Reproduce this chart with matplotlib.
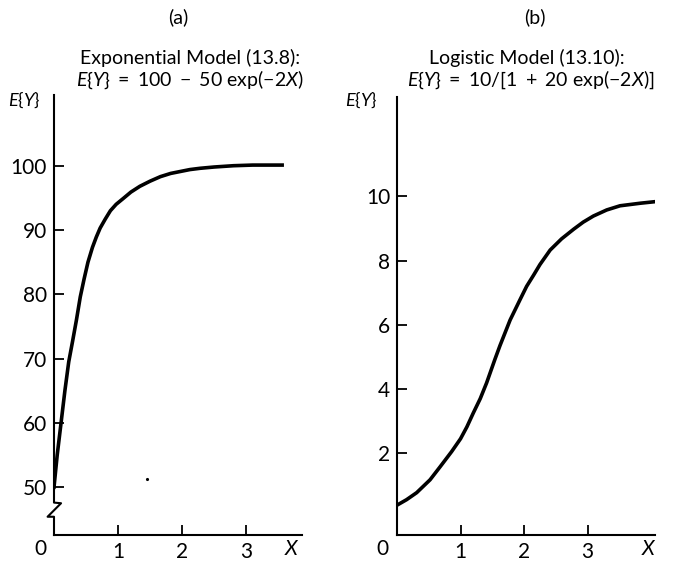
import numpy as np
import matplotlib
matplotlib.use("Agg")
import matplotlib.pyplot as plt

plt.rcParams['font.family'] = ['Lato', 'DejaVu Sans']
plt.rcParams['mathtext.fontset'] = 'custom'
plt.rcParams['mathtext.rm'] = 'Lato'
plt.rcParams['mathtext.it'] = 'Lato:italic'

# values
exp_x = [0.0, 0.05, 0.11, 0.17, 0.23, 0.29, 0.35, 0.41, 0.47, 0.53, 0.60, 0.66,
         0.72, 0.80, 0.88, 0.97, 1.08, 1.2, 1.34, 1.5, 1.66, 1.82, 1.97, 2.12,
         2.28, 2.5, 2.8, 3.1, 3.56]
exp_y = [50.0, 55.0, 60.0, 65.0, 69.5, 72.7, 76.0, 79.6, 82.4, 85.0, 87.3, 88.9,
         90.3, 91.7, 93.0, 94.0, 94.9, 95.9, 96.8, 97.6, 98.3, 98.8, 99.1, 99.4,
         99.6, 99.8, 100.0, 100.1, 100.1]

log_x = [0.0, 0.15, 0.31, 0.52, 0.68, 0.86, 1.0, 1.1, 1.2, 1.31, 1.41, 1.54,
         1.62, 1.78, 1.94, 2.04, 2.15, 2.25, 2.41, 2.59, 2.78, 2.93, 3.09, 3.30,
         3.51, 3.83, 4.07]
log_y = [0.38, 0.55, 0.77, 1.17, 1.58, 2.05, 2.45, 2.82, 3.25, 3.7, 4.19, 4.92,
         5.35, 6.15, 6.8, 7.2, 7.55, 7.88, 8.33, 8.68, 8.98, 9.2, 9.39, 9.58,
         9.71, 9.79, 9.84]

exp_yticks = [50, 60, 70, 80, 90, 100]
log_yticks = [2, 4, 6, 8, 10]
xticks = [1, 2, 3]

W, H = 673, 562
TICK_FS = 15
fig = plt.figure(figsize=(W / 100, H / 100), dpi=100)


def px_axes(x0, y0, x1, y1):
    # pixel box (left, top, right, bottom) -> axes
    return fig.add_axes([x0 / W, 1 - y1 / H, (x1 - x0) / W, (y1 - y0) / H])


def style(ax):
    for s in ['top', 'right']:
        ax.spines[s].set_visible(False)
    for s in ['left', 'bottom']:
        ax.spines[s].set_linewidth(1.5)
    ax.tick_params(direction='in', length=7, width=1.3, labelsize=TICK_FS)
    ax.tick_params(axis='y', pad=5)
    ax.tick_params(axis='x', pad=5)
    ax.set_xticks(xticks)
    ax.text(-0.055, -0.01, '0', transform=ax.transAxes, ha='center', va='top', fontsize=TICK_FS)


ax1 = px_axes(54, 95, 302, 535)
ax1.plot(exp_x, exp_y, color='black', lw=2.6, solid_joinstyle='round')
ax1.set_xlim(0, 3.87)
ax1.set_ylim(42.56, 111)
ax1.set_yticks(exp_yticks)
style(ax1)
ax1.text(0.955, -0.01, 'X', transform=ax1.transAxes, style='italic',
         ha='center', va='top', fontsize=TICK_FS)
ax1.plot([1.45], [51.2], 'k.', ms=2.5)

# axis break on the left axis
ax1.spines['left'].set_visible(False)
brk_y = [111, 47.6, 47.5, 45.4, 45.4, 42.56]
brk_x = [0, 0, 0.11, -0.1, 0, 0]
ax1.plot(brk_x, brk_y, color='black', lw=1.5, clip_on=False)

ax2 = px_axes(397, 97, 655, 535)
ax2.plot(log_x, log_y, color='black', lw=2.6, solid_joinstyle='round')
ax2.set_xlim(0, 4.06)
ax2.set_ylim(-0.55, 13.1)
ax2.set_yticks(log_yticks)
style(ax2)
ax2.text(0.975, -0.01, 'X', transform=ax2.transAxes, style='italic',
         ha='center', va='top', fontsize=TICK_FS)

fs = 14
fig.text(178 / W, 1 - 17 / H, '(a)', ha='center', va='center', fontsize=fs)
fig.text(535 / W, 1 - 17 / H, '(b)', ha='center', va='center', fontsize=fs)
fig.text(190 / W, 1 - 58 / H, 'Exponential Model (13.8):', ha='center', va='center', fontsize=fs)
fig.text(190 / W, 1 - 80 / H, r'$E\{Y\}\ =\ 100\ -\ 50\ \mathrm{exp}(-2X)$',
         ha='center', va='center', fontsize=fs)
fig.text(527 / W, 1 - 58 / H, 'Logistic Model (13.10):', ha='center', va='center', fontsize=fs)
fig.text(531 / W, 1 - 80 / H, r'$E\{Y\}\ =\ 10/[1\ +\ 20\ \mathrm{exp}(-2X)]$',
         ha='center', va='center', fontsize=fs)
fig.text(24 / W, 1 - 100 / H, r'$E\{Y\}$', ha='center', va='center', fontsize=13)
fig.text(361 / W, 1 - 100 / H, r'$E\{Y\}$', ha='center', va='center', fontsize=13)

fig.savefig('out.png', dpi=100)
